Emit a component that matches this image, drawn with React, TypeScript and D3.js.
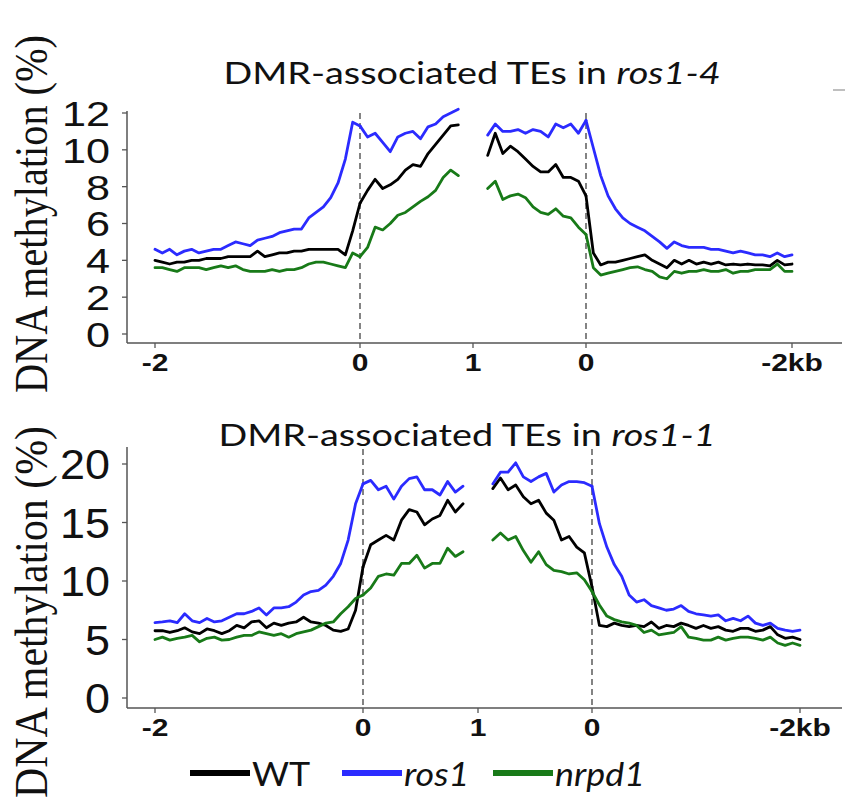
import React from "react";
import * as d3 from "d3";

// ---------- data ----------
const seriesNames = ["WT", "ros1", "nrpd1"];
const seriesColors = ["#000000", "#2b2bff", "#187a18"];
const xTickValues = [-2, 0, 1, 2, 4];
const xTickLabels = ["-2", "0", "1", "0", "-2kb"];
const topYTicks = [0, 2, 4, 6, 8, 10, 12];
const botYTicks = [0, 5, 10, 15, 20];

// Panel 1: DMR-associated TEs in ros1-4  (LF = 2kb upstream, LB/RB = TE body halves, RF = 2kb downstream)
const p1WT_LF = [4.0, 3.9, 3.8, 3.9, 3.9, 4.0, 4.0, 4.1, 4.1, 4.1, 4.2, 4.2, 4.2, 4.2, 4.5, 4.2, 4.3, 4.4, 4.4, 4.5, 4.5, 4.6, 4.6, 4.6, 4.6, 4.6, 4.3, 5.6, 7.1];
const p1WT_LB = [7.1, 7.8, 8.4, 7.9, 8.1, 8.4, 8.9, 9.2, 9.1, 9.8, 10.3, 10.8, 11.3, 11.35];
const p1WT_RB = [9.7, 10.9, 9.8, 10.2, 9.9, 9.5, 9.1, 8.8, 8.8, 9.2, 8.5, 8.5, 8.3, 7.5];
const p1WT_RF = [7.5, 4.4, 3.75, 3.9, 3.9, 4.0, 4.1, 4.2, 4.3, 4.0, 3.8, 3.6, 4.0, 3.8, 4.0, 3.8, 3.9, 3.8, 3.9, 3.75, 3.8, 3.75, 3.8, 3.75, 3.75, 3.7, 4.0, 3.75, 3.8];

const p1ROS_LF = [4.6, 4.4, 4.6, 4.3, 4.5, 4.6, 4.4, 4.5, 4.6, 4.6, 4.8, 5.0, 4.9, 4.8, 5.1, 5.2, 5.3, 5.5, 5.6, 5.7, 5.7, 6.3, 6.6, 6.9, 7.4, 8.2, 9.5, 11.5, 11.3];
const p1ROS_LB = [11.3, 10.7, 10.9, 10.4, 9.9, 10.7, 10.9, 11.0, 10.6, 11.25, 11.4, 11.8, 12.0, 12.2];
const p1ROS_RB = [10.8, 11.4, 11.0, 11.0, 11.1, 10.9, 11.1, 11.0, 10.7, 11.4, 11.2, 11.4, 10.9, 11.6];
const p1ROS_RF = [11.6, 10.1, 8.6, 7.5, 6.8, 6.3, 6.0, 5.8, 5.6, 5.3, 5.0, 4.65, 5.0, 4.8, 4.7, 4.7, 4.7, 4.6, 4.6, 4.5, 4.4, 4.5, 4.4, 4.3, 4.3, 4.2, 4.4, 4.2, 4.3];

const p1NRP_LF = [3.6, 3.6, 3.5, 3.4, 3.6, 3.6, 3.6, 3.5, 3.6, 3.7, 3.6, 3.7, 3.5, 3.4, 3.4, 3.4, 3.5, 3.4, 3.5, 3.5, 3.6, 3.8, 3.9, 3.9, 3.8, 3.7, 3.6, 4.4, 4.2];
const p1NRP_LB = [4.2, 4.7, 5.8, 5.65, 6.0, 6.45, 6.6, 6.9, 7.2, 7.45, 7.8, 8.5, 8.9, 8.6];
const p1NRP_RB = [7.9, 8.3, 7.3, 7.5, 7.6, 7.4, 6.9, 6.6, 6.5, 6.8, 6.4, 6.3, 5.8, 5.4];
const p1NRP_RF = [5.4, 3.6, 3.2, 3.3, 3.4, 3.5, 3.6, 3.65, 3.5, 3.4, 3.1, 3.0, 3.4, 3.3, 3.4, 3.4, 3.5, 3.4, 3.4, 3.5, 3.3, 3.4, 3.4, 3.5, 3.5, 3.5, 3.8, 3.4, 3.4];

// Panel 2: DMR-associated TEs in ros1-1
const p2WT_LF = [5.75, 5.75, 5.6, 5.75, 6.0, 5.65, 5.5, 5.9, 5.75, 5.5, 5.75, 6.2, 6.0, 6.5, 6.6, 6.0, 6.4, 6.2, 6.4, 6.5, 6.9, 6.5, 6.4, 6.2, 5.8, 5.7, 5.9, 7.5, 11.2];
const p2WT_LB = [11.2, 13.1, 13.5, 13.9, 13.5, 15.2, 16.1, 15.9, 14.8, 15.3, 15.6, 16.9, 15.9, 16.6];
const p2WT_RB = [17.9, 18.8, 17.8, 18.2, 17.2, 16.6, 16.9, 15.8, 15.2, 13.5, 13.8, 12.9, 12.4, 9.5];
const p2WT_RF = [9.5, 6.2, 6.1, 6.4, 6.2, 6.1, 6.2, 6.1, 6.5, 5.95, 6.2, 6.1, 6.4, 6.2, 5.95, 6.2, 5.95, 6.1, 5.8, 5.7, 5.95, 5.95, 5.7, 5.8, 6.1, 5.4, 5.1, 5.2, 5.0];

const p2ROS_LF = [6.44, 6.5, 6.6, 6.44, 7.2, 6.6, 6.44, 6.8, 6.5, 6.6, 6.9, 7.2, 7.2, 7.4, 7.7, 7.1, 7.7, 7.7, 7.8, 8.2, 8.8, 9.1, 9.2, 9.65, 10.4, 11.5, 13.5, 16.6, 18.3];
const p2ROS_LB = [18.3, 18.6, 17.8, 18.1, 17.0, 18.1, 18.75, 18.9, 17.8, 17.8, 17.35, 18.5, 17.6, 18.1];
const p2ROS_RB = [18.3, 19.3, 19.3, 20.1, 18.9, 18.5, 18.9, 19.2, 17.6, 18.2, 18.5, 18.5, 18.4, 18.1];
const p2ROS_RF = [18.1, 14.9, 12.9, 11.4, 10.4, 8.8, 8.2, 8.4, 7.9, 7.7, 7.5, 7.6, 7.9, 7.4, 7.2, 7.1, 7.0, 7.1, 6.6, 6.8, 6.6, 7.0, 6.4, 6.2, 6.4, 5.95, 5.8, 5.7, 5.8];

const p2NRP_LF = [5.0, 5.2, 4.95, 5.1, 5.2, 5.35, 4.8, 5.1, 5.2, 4.95, 5.0, 5.2, 5.35, 5.35, 5.65, 5.5, 5.35, 5.5, 5.2, 5.5, 5.65, 5.8, 6.1, 6.4, 6.5, 7.2, 7.8, 8.5, 8.8];
const p2NRP_LB = [8.8, 9.4, 10.4, 10.6, 10.5, 11.5, 11.5, 12.2, 11.1, 11.5, 11.5, 12.8, 12.1, 12.5];
const p2NRP_RB = [13.5, 14.1, 13.5, 13.8, 12.6, 11.6, 12.5, 11.4, 10.9, 10.8, 10.6, 10.7, 10.1, 9.1];
const p2NRP_RF = [9.1, 7.95, 7.0, 6.7, 6.5, 6.4, 6.2, 5.6, 5.8, 5.4, 5.5, 5.6, 6.1, 5.2, 5.1, 4.95, 4.95, 5.2, 4.95, 5.1, 5.2, 5.2, 5.1, 4.95, 5.2, 4.7, 4.5, 4.7, 4.5];

// ---------- layout ----------
const W = 846;
const H = 803;
const LEFT_BODY_END = 0.87;
const RIGHT_BODY_START = 1.13;

type Seg = number[][];
const panels = [
  {
    titleMain: "DMR-associated TEs in ",
    titleItalic: "ros1-4",
    titleX: 472, titleY: 84,
    yDomain: [0, 12], yRange: [334, 113], yTicks: topYTicks,
    tickFont: 36, tickSx: 1.2,
    axisTop: 111, axisY: 343,
    xRange: [155, 360, 473, 586, 792],
    labelCenter: 214, labelLen: 358,
    series: [
      [p1WT_LF, p1WT_LB, p1WT_RB, p1WT_RF],
      [p1ROS_LF, p1ROS_LB, p1ROS_RB, p1ROS_RF],
      [p1NRP_LF, p1NRP_LB, p1NRP_RB, p1NRP_RF],
    ] as Seg[],
  },
  {
    titleMain: "DMR-associated TEs in ",
    titleItalic: "ros1-1",
    titleX: 467, titleY: 446,
    yDomain: [0, 20], yRange: [698, 464], yTicks: botYTicks,
    tickFont: 42, tickSx: 1.07,
    axisTop: 447, axisY: 708,
    xRange: [155, 363, 478, 592, 800],
    labelCenter: 612, labelLen: 372,
    series: [
      [p2WT_LF, p2WT_LB, p2WT_RB, p2WT_RF],
      [p2ROS_LF, p2ROS_LB, p2ROS_RB, p2ROS_RF],
      [p2NRP_LF, p2NRP_LB, p2NRP_RB, p2NRP_RF],
    ] as Seg[],
  },
];

const AXIS_X = 127;
const AXIS_RIGHT = 842;
const axisColor = "#555";
const SANS = "'Liberation Sans', Arial, sans-serif";
const TITLE_FONT = "Lato, 'Open Sans', sans-serif";

function segPositions(n: number, a: number, b: number) {
  return d3.range(n).map((i) => a + ((b - a) * i) / (n - 1));
}

function Panel({ p }: { p: (typeof panels)[number] }) {
  const x = d3.scaleLinear().domain(xTickValues).range(p.xRange);
  const y = d3.scaleLinear().domain(p.yDomain).range(p.yRange);
  const line = d3
    .line<[number, number]>()
    .x((d) => x(d[0]))
    .y((d) => y(d[1]));
  const bounds: [number, number][] = [
    [-2, 0],
    [0, LEFT_BODY_END],
    [RIGHT_BODY_START, 2],
    [2, 4],
  ];
  const drawOrder = [1, 0, 2];
  return (
    <g>
      {/* title */}
      <text
        transform={`translate(${p.titleX},${p.titleY}) scale(1.22,1)`}
        textAnchor="middle"
        fontFamily={TITLE_FONT}
        fontSize={31}
        fill="#111"
      >
        {p.titleMain}
        <tspan fontStyle="italic">{p.titleItalic}</tspan>
      </text>
      {/* y label */}
      <text
        transform={`translate(47,${p.labelCenter}) rotate(-90)`}
        textAnchor="middle"
        fontFamily="'Liberation Serif', 'Times New Roman', serif"
        fontSize={46}
        textLength={p.labelLen}
        lengthAdjust="spacingAndGlyphs"
        fill="#111"
      >
        DNA methylation (%)
      </text>
      {/* dashed TSS/TTS lines */}
      {[0, 2].map((v) => (
        <line
          key={v}
          x1={x(v)}
          x2={x(v)}
          y1={p.axisTop + 2}
          y2={p.axisY}
          stroke="#333"
          strokeWidth={1.2}
          strokeDasharray="6,4"
        />
      ))}
      {/* axes */}
      <line x1={AXIS_X} x2={AXIS_X} y1={p.axisTop} y2={p.axisY} stroke={axisColor} strokeWidth={1.5} />
      <line x1={AXIS_X} x2={AXIS_RIGHT} y1={p.axisY} y2={p.axisY} stroke={axisColor} strokeWidth={1.5} />
      {p.yTicks.map((t) => (
        <g key={t}>
          <line x1={AXIS_X - 5} x2={AXIS_X} y1={y(t)} y2={y(t)} stroke={axisColor} strokeWidth={1.3} />
          <text
            transform={`translate(110,${y(t)}) scale(${p.tickSx},1)`}
            textAnchor="end"
            dy="0.36em"
            fontFamily={SANS}
            fontSize={p.tickFont}
            fill="#111"
          >
            {t}
          </text>
        </g>
      ))}
      {xTickValues.map((t, i) => (
        <g key={i}>
          <line x1={x(t)} x2={x(t)} y1={p.axisY} y2={p.axisY + 5} stroke={axisColor} strokeWidth={1.3} />
          <text
            transform={`translate(${x(t)},${p.axisY + 28}) scale(1.25,1)`}
            textAnchor="middle"
            fontFamily={SANS}
            fontWeight="bold"
            fontSize={24}
            fill="#111"
          >
            {xTickLabels[i]}
          </text>
        </g>
      ))}
      {/* series */}
      {drawOrder.map((si) =>
        p.series[si].map((seg, k) => {
          const xs = segPositions(seg.length, bounds[k][0], bounds[k][1]);
          const pts = seg.map((v, j) => [xs[j], v] as [number, number]);
          return (
            <path
              key={`${si}-${k}`}
              d={line(pts) || ""}
              fill="none"
              stroke={seriesColors[si]}
              strokeWidth={2.8}
              strokeLinejoin="round"
              strokeLinecap="round"
            />
          );
        })
      )}
    </g>
  );
}

const legendX = [190, 342, 493];

export default function App() {
  return (
    <svg width={W} height={H} style={{ position: "absolute", left: 0, top: 0, background: "#fff" }}>
      <rect x={0} y={0} width={W} height={H} fill="#fff" />
      {panels.map((p, i) => (
        <Panel key={i} p={p} />
      ))}
      <line x1={833} x2={845} y1={90} y2={90} stroke="#aaa" strokeWidth={1.5} />
      {/* legend */}
      {seriesNames.map((name, i) => (
        <g key={name}>
          <line x1={legendX[i]} x2={legendX[i] + 60} y1={773} y2={773} stroke={seriesColors[i]} strokeWidth={6} />
          <text
            transform={`translate(${legendX[i] + 62},${786}) scale(1.12,1)`}
            fontFamily={TITLE_FONT}
            fontSize={32}
            fontStyle={i === 0 ? "normal" : "italic"}
            fill="#111"
          >
            {name}
          </text>
        </g>
      ))}
    </svg>
  );
}
